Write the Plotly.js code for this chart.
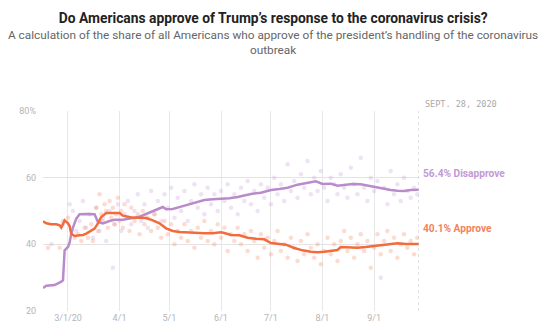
<!DOCTYPE html>
<html>
<head>
<meta charset="utf-8">
<script src="https://cdn.plot.ly/plotly-3.0.1.min.js"></script>
<style>html,body{margin:0;padding:0;background:#fff;}#chart{width:540px;height:335px;}</style>
</head>
<body>
<div id="chart"></div>
<script>
// ---- data ----
const approveDates = ["2020-02-15","2020-02-17","2020-02-20","2020-02-23","2020-02-25","2020-02-26","2020-02-27","2020-02-28","2020-03-01","2020-03-02","2020-03-03","2020-03-05","2020-03-08","2020-03-10","2020-03-12","2020-03-14","2020-03-17","2020-03-19","2020-03-21","2020-03-24","2020-03-28","2020-04-01","2020-04-03","2020-04-06","2020-04-09","2020-04-13","2020-04-17","2020-04-21","2020-04-25","2020-04-29","2020-05-03","2020-05-07","2020-05-12","2020-05-17","2020-05-22","2020-05-27","2020-06-01","2020-06-03","2020-06-07","2020-06-12","2020-06-17","2020-06-22","2020-06-27","2020-07-01","2020-07-06","2020-07-10","2020-07-15","2020-07-20","2020-07-25","2020-07-29","2020-08-02","2020-08-07","2020-08-10","2020-08-12","2020-08-17","2020-08-22","2020-08-27","2020-09-01","2020-09-05","2020-09-10","2020-09-15","2020-09-20","2020-09-24","2020-09-28"];
const approveValues = [46.9,46.3,46.0,46.0,45.7,45.0,46.0,47.2,46.3,45.5,43.2,42.5,42.7,42.8,43.2,43.7,44.7,46.3,48.2,49.4,49.5,49.4,48.6,48.2,48.0,48.0,47.9,47.2,46.3,44.8,44.0,43.7,43.5,43.4,43.3,43.3,43.6,43.4,42.8,42.7,42.0,41.7,41.5,40.4,40.1,39.9,38.9,38.2,37.8,37.6,37.8,38.0,38.3,39.2,39.1,39.0,39.2,39.5,39.8,40.0,40.3,40.1,40.0,40.1];

const disapproveDates = ["2020-02-15","2020-02-17","2020-02-22","2020-02-24","2020-02-26","2020-02-27","2020-02-28","2020-03-01","2020-03-02","2020-03-03","2020-03-04","2020-03-06","2020-03-08","2020-03-12","2020-03-17","2020-03-19","2020-03-22","2020-03-26","2020-03-29","2020-04-03","2020-04-09","2020-04-13","2020-04-17","2020-04-22","2020-04-25","2020-04-27","2020-04-29","2020-05-03","2020-05-08","2020-05-13","2020-05-18","2020-05-22","2020-05-27","2020-06-01","2020-06-06","2020-06-11","2020-06-19","2020-06-25","2020-07-01","2020-07-06","2020-07-11","2020-07-17","2020-07-22","2020-07-28","2020-08-01","2020-08-06","2020-08-10","2020-08-14","2020-08-19","2020-08-24","2020-08-28","2020-09-01","2020-09-06","2020-09-11","2020-09-15","2020-09-19","2020-09-23","2020-09-28"];
const disapproveValues = [26.9,27.6,27.8,28.2,28.8,29.2,38.2,39.2,40.5,43.2,45.0,47.7,49.0,49.1,49.0,46.7,46.3,47.0,47.4,47.4,47.9,48.3,49.1,50.2,50.8,51.2,50.5,50.6,51.3,52.0,52.8,53.3,53.5,53.6,53.8,54.2,55.1,55.5,56.3,56.6,57.0,57.9,58.3,58.9,58.1,58.2,57.6,57.8,58.1,58.0,57.6,57.1,56.8,56.3,56.1,56.0,56.3,56.4];

const approvePollDates = ["2020-02-18","2020-02-25","2020-02-27","2020-03-01","2020-03-03","2020-03-05","2020-03-07","2020-03-09","2020-03-11","2020-03-13","2020-03-15","2020-03-16","2020-03-18","2020-03-19","2020-03-20","2020-03-21","2020-03-22","2020-03-23","2020-03-24","2020-03-25","2020-03-26","2020-03-27","2020-03-28","2020-03-29","2020-03-30","2020-03-31","2020-04-01","2020-04-02","2020-04-03","2020-04-04","2020-04-06","2020-04-07","2020-04-08","2020-04-10","2020-04-12","2020-04-13","2020-04-15","2020-04-16","2020-04-18","2020-04-20","2020-04-22","2020-04-24","2020-04-26","2020-04-28","2020-04-30","2020-05-02","2020-05-04","2020-05-06","2020-05-08","2020-05-10","2020-05-12","2020-05-14","2020-05-16","2020-05-18","2020-05-20","2020-05-22","2020-05-24","2020-05-26","2020-05-28","2020-05-30","2020-06-01","2020-06-03","2020-06-05","2020-06-07","2020-06-09","2020-06-11","2020-06-13","2020-06-15","2020-06-17","2020-06-19","2020-06-21","2020-06-23","2020-06-25","2020-06-27","2020-06-29","2020-07-01","2020-07-03","2020-07-05","2020-07-07","2020-07-09","2020-07-11","2020-07-13","2020-07-15","2020-07-17","2020-07-19","2020-07-21","2020-07-23","2020-07-25","2020-07-27","2020-07-29","2020-07-31","2020-08-02","2020-08-04","2020-08-06","2020-08-08","2020-08-10","2020-08-12","2020-08-14","2020-08-16","2020-08-18","2020-08-20","2020-08-22","2020-08-24","2020-08-26","2020-08-28","2020-08-30","2020-09-01","2020-09-03","2020-09-05","2020-09-07","2020-09-09","2020-09-11","2020-09-13","2020-09-15","2020-09-17","2020-09-19","2020-09-21","2020-09-23","2020-09-25","2020-09-27"];
const approvePollValues = [39,39,47,48,44,42,43,41,45,42,46,41,51,44,55,49,47,52,50,45,53,48,51,46,49,54,47,50,45,52,48,44,51,47,49,43,50,46,48,44,49,45,42,47,43,46,40,44,42,46,41,44,39,45,42,47,41,44,40,46,42,45,38,43,41,45,40,43,38,44,41,36,43,39,42,37,41,44,38,40,36,42,39,35,41,37,43,39,36,40,34,38,42,37,40,35,41,44,38,42,36,40,43,38,41,33,39,43,37,41,44,38,42,36,40,43,39,41,37,42];

const disapprovePollDates = ["2020-02-20","2020-02-27","2020-03-02","2020-03-04","2020-03-06","2020-03-08","2020-03-10","2020-03-12","2020-03-14","2020-03-16","2020-03-18","2020-03-20","2020-03-22","2020-03-24","2020-03-26","2020-03-28","2020-03-29","2020-03-31","2020-04-02","2020-04-04","2020-04-06","2020-04-08","2020-04-10","2020-04-12","2020-04-14","2020-04-16","2020-04-18","2020-04-20","2020-04-22","2020-04-24","2020-04-26","2020-04-28","2020-04-30","2020-05-02","2020-05-04","2020-05-06","2020-05-08","2020-05-10","2020-05-12","2020-05-14","2020-05-16","2020-05-18","2020-05-20","2020-05-22","2020-05-24","2020-05-26","2020-05-28","2020-05-30","2020-06-01","2020-06-03","2020-06-05","2020-06-07","2020-06-09","2020-06-11","2020-06-13","2020-06-15","2020-06-17","2020-06-19","2020-06-21","2020-06-23","2020-06-25","2020-06-27","2020-06-29","2020-07-01","2020-07-03","2020-07-05","2020-07-07","2020-07-09","2020-07-11","2020-07-13","2020-07-15","2020-07-17","2020-07-19","2020-07-21","2020-07-23","2020-07-25","2020-07-27","2020-07-29","2020-07-31","2020-08-02","2020-08-04","2020-08-06","2020-08-08","2020-08-10","2020-08-12","2020-08-14","2020-08-16","2020-08-18","2020-08-20","2020-08-22","2020-08-24","2020-08-26","2020-08-28","2020-08-30","2020-09-01","2020-09-03","2020-09-05","2020-09-07","2020-09-09","2020-09-11","2020-09-13","2020-09-15","2020-09-17","2020-09-19","2020-09-21","2020-09-23","2020-09-25","2020-09-27"];
const disapprovePollValues = [40,46,52,50,44,47,53,45,49,42,51,44,48,41,50,33,46,52,44,49,53,46,50,55,47,52,45,56,49,53,47,55,51,57,48,54,50,56,47,53,58,51,55,49,57,52,55,50,56,53,58,51,55,49,57,53,59,52,56,50,58,54,57,52,60,55,58,53,64,56,59,54,61,57,65,55,60,56,62,57,53,60,58,55,61,57,54,63,58,55,66,57,53,60,56,59,30,57,52,62,55,58,53,60,56,54,57,55];

const tickDates = ["2020-03-01","2020-04-01","2020-05-01","2020-06-01","2020-07-01","2020-08-01","2020-09-01"];
const tickLabels = ["3/1/20","4/1","5/1","6/1","7/1","8/1","9/1"];
const yTicks = [20,40,60,80];
const yTickLabels = ["20","40","60","80%"];
const endDate = "2020-09-28";
const endLabel = "SEPT. 28, 2020";
const latestDisapprove = "56.4% Disapprove";
const latestApprove = "40.1% Approve";

const ORANGE = "#f36b3d";
const PURPLE = "#b98bcb";
const FONT = "Roboto, 'Liberation Sans', sans-serif";

const traces = [
  {x: disapprovePollDates, y: disapprovePollValues, type: "scatter", mode: "markers",
   marker: {color: "rgba(195,150,215,0.28)", size: 4.5}, hoverinfo: "skip"},
  {x: approvePollDates, y: approvePollValues, type: "scatter", mode: "markers",
   marker: {color: "rgba(245,130,90,0.28)", size: 4.5}, hoverinfo: "skip"},
  {x: disapproveDates, y: disapproveValues, type: "scatter", mode: "lines",
   line: {color: PURPLE, width: 2.5}},
  {x: approveDates, y: approveValues, type: "scatter", mode: "lines",
   line: {color: ORANGE, width: 2.5}}
];

const layout = {
  width: 540, height: 335,
  margin: {l: 43, r: 121, t: 111, b: 24},
  paper_bgcolor: "#fff", plot_bgcolor: "#fff",
  showlegend: false,
  font: {family: FONT},
  title: {
    text: "<b>Do Americans approve of Trump’s response to the coronavirus crisis?</b>",
    font: {size: 13.8, color: "#222", family: FONT},
    x: 0.506, xanchor: "center", xref: "container", y: 0.945, yanchor: "middle", yref: "container"
  },
  xaxis: {
    type: "date",
    range: ["2020-02-15", "2020-09-28"],
    tickvals: tickDates, ticktext: tickLabels,
    showgrid: true, gridcolor: "#e8e8e8", gridwidth: 1,
    zeroline: false, showline: false, ticks: "",
    tickfont: {size: 9, color: "#b5b5b5"},
    fixedrange: true
  },
  yaxis: {
    range: [20, 80],
    tickvals: yTicks, ticktext: yTickLabels,
    showgrid: true, gridcolor: "#e3e3e3", gridwidth: 1,
    zeroline: false, showline: false, ticks: "",
    ticklabelstandoff: 6,
    tickfont: {size: 9, color: "#b5b5b5"},
    fixedrange: true
  },
  shapes: [
    {type: "line", xref: "x", yref: "paper", x0: endDate, x1: endDate, y0: 0, y1: 1,
     line: {color: "#c8c8c8", width: 1, dash: "dot"}}
  ],
  annotations: [
    {text: "A calculation of the share of all Americans who approve of the president’s handling of the coronavirus<br>outbreak",
     xref: "paper", yref: "paper", x: 0.612, y: 1.343, xanchor: "center", yanchor: "middle",
     showarrow: false, align: "center",
     font: {size: 11.8, color: "#666", family: FONT}},
    {text: endLabel, xref: "x", yref: "paper", x: endDate, y: 1.035, xanchor: "left", yanchor: "middle",
     xshift: 4, showarrow: false,
     font: {size: 8.5, color: "#a9a9a9", family: "'DejaVu Sans Mono', monospace"}},
    {text: "<b>" + latestDisapprove + "</b>", xref: "x", yref: "y", x: endDate, y: disapproveValues[disapproveValues.length-1],
     xanchor: "left", yanchor: "middle", xshift: 2, yshift: 16, showarrow: false,
     font: {size: 10.2, color: "#c39ad4", family: FONT}},
    {text: "<b>" + latestApprove + "</b>", xref: "x", yref: "y", x: endDate, y: approveValues[approveValues.length-1],
     xanchor: "left", yanchor: "middle", xshift: 2, yshift: 16, showarrow: false,
     font: {size: 10.2, color: "#f2845d", family: FONT}}
  ]
};

Plotly.newPlot("chart", traces, layout, {staticPlot: true, displayModeBar: false});
</script>
</body>
</html>
